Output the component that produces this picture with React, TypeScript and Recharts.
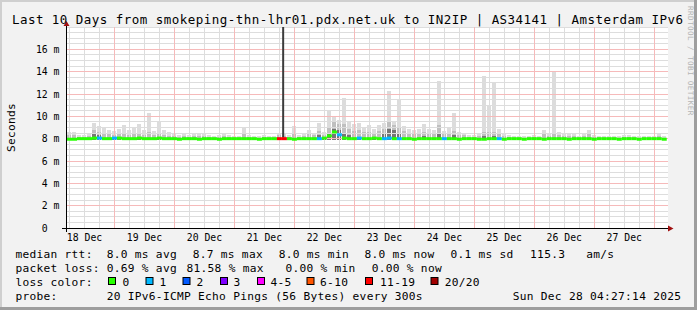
import React from 'react';
import { ComposedChart, Bar, Scatter, XAxis, YAxis, CartesianGrid, ReferenceLine } from 'recharts';

// ---------- data ----------
const firstBinHour = 6; // hours since 18 Dec 00:00 (bin centres, 2 h bins)
const binHours = 2;
const smokeBase = 7.9;

const smokeMax = [
  8.6, 8.6, 8.3, 8.3, 8.5, 9.4, 9.1, 9.0, 8.8, 8.7,
  8.9, 9.2, 8.8, 9.0, 9.3, 8.8, 10.3, 8.7, 9.5, 8.8,
  8.6, 8.4, 8.3, 8.4, 8.3, 8.4, 8.5, 8.4, 8.3, 8.2,
  8.3, 8.5, 8.3, 8.2, 8.2, 9.0, 8.3, 8.2, 8.2, 8.3,
  8.2, 8.2, 8.5, 8.4, 8.3, 9.1, 8.3, 8.4, 8.8, 8.5,
  9.4, 8.6, 10.5, 10.0, 9.7, 11.6, 9.5, 9.3, 9.4, 9.0,
  9.2, 8.9, 9.2, 9.4, 12.3, 9.6, 11.5, 9.1, 8.9, 8.8,
  8.9, 9.3, 8.9, 8.8, 13.2, 8.7, 9.0, 10.3, 8.6, 8.5,
  8.3, 8.3, 8.4, 13.6, 11.0, 13.1, 8.9, 8.4, 8.3, 8.2,
  8.2, 8.2, 8.2, 8.3, 8.2, 8.8, 8.4, 14.0, 8.6, 8.5,
  8.5, 8.4, 8.2, 8.5, 8.8, 8.3, 8.2, 8.2, 8.2, 8.2,
  8.2, 8.3, 8.3, 8.2, 8.2, 8.2, 8.2, 8.2, 8.4, 8.2,
];

const smokeMid = [
  8.3, 8.3, 8.15, 8.15, 8.25, 8.8, 8.6, 8.5, 8.4, 8.35,
  8.4, 8.5, 8.35, 8.4, 8.5, 8.35, 8.6, 8.3, 8.5, 8.35,
  8.25, 8.2, 8.15, 8.2, 8.15, 8.2, 8.2, 8.2, 8.15, 8.1,
  8.15, 8.2, 8.15, 8.1, 8.1, 8.4, 8.15, 8.1, 8.1, 8.15,
  8.1, 8.1, 8.3, 8.25, 8.15, 8.5, 8.15, 8.2, 8.4, 8.3,
  8.7, 8.35, 9.0, 9.6, 9.3, 9.3, 8.9, 8.7, 8.8, 8.6,
  8.6, 8.5, 8.7, 8.9, 9.5, 9.2, 9.0, 8.7, 8.5, 8.45,
  8.5, 8.6, 8.5, 8.45, 9.2, 8.4, 8.5, 8.7, 8.35, 8.3,
  8.15, 8.15, 8.2, 8.6, 8.6, 8.6, 8.45, 8.2, 8.15, 8.1,
  8.1, 8.1, 8.1, 8.15, 8.1, 8.4, 8.2, 8.5, 8.3, 8.25,
  8.25, 8.2, 8.1, 8.25, 8.4, 8.15, 8.1, 8.1, 8.1, 8.1,
  8.1, 8.15, 8.15, 8.1, 8.1, 8.1, 8.1, 8.1, 8.2, 8.1,
];

const smokeDark = [
  8.0, 8.0, 8.0, 8.0, 8.0, 8.4, 8.3, 8.0, 8.0, 8.0,
  8.0, 8.0, 8.0, 8.0, 8.0, 8.0, 8.0, 8.0, 8.0, 8.0,
  8.0, 8.0, 8.0, 8.0, 8.0, 8.0, 8.0, 8.0, 8.0, 8.0,
  8.0, 8.0, 8.0, 8.0, 8.0, 8.0, 8.0, 8.0, 8.0, 8.0,
  8.0, 8.0, 8.0, 8.0, 8.0, 8.0, 8.0, 8.0, 8.0, 8.0,
  8.3, 8.0, 8.5, 8.9, 8.8, 8.5, 8.3, 8.0, 8.0, 8.0,
  8.0, 8.0, 8.0, 8.4, 8.9, 8.8, 8.5, 8.0, 8.0, 8.0,
  8.0, 8.2, 8.0, 8.0, 8.5, 8.0, 8.0, 8.3, 8.0, 8.0,
  8.0, 8.0, 8.0, 8.2, 8.0, 8.2, 8.0, 8.0, 8.0, 8.0,
  8.0, 8.0, 8.0, 8.0, 8.0, 8.0, 8.0, 8.0, 8.0, 8.0,
  8.0, 8.0, 8.0, 8.0, 8.0, 8.0, 8.0, 8.0, 8.0, 8.0,
  8.0, 8.0, 8.0, 8.0, 8.0, 8.0, 8.0, 8.0, 8.0, 8.0,
];

const median = [
  7.95, 7.95, 8.0, 8.0, 8.0, 8.05, 8.05, 8.0, 8.0, 8.05,
  8.05, 8.0, 8.0, 8.0, 8.05, 8.0, 8.0, 8.0, 8.05, 8.0,
  8.0, 8.0, 7.95, 8.0, 8.0, 8.0, 7.95, 8.0, 8.0, 8.0,
  7.95, 8.0, 8.0, 8.0, 8.0, 8.0, 8.0, 8.0, 7.95, 8.0,
  8.0, 8.0, 8.0, 8.0, 8.0, 7.95, 8.0, 8.0, 8.0, 8.0,
  8.0, 8.05, 8.25, 8.6, 8.35, 8.05, 8.0, 8.0, 8.05, 8.0,
  8.0, 8.05, 8.0, 8.0, 8.05, 8.0, 8.0, 8.0, 8.0, 7.95,
  8.0, 8.0, 8.0, 8.0, 8.0, 8.0, 8.0, 8.0, 7.95, 8.0,
  8.0, 8.0, 7.95, 7.95, 8.0, 8.0, 8.0, 7.95, 8.0, 8.0,
  8.0, 7.95, 8.0, 8.0, 8.0, 7.95, 8.0, 8.0, 8.0, 8.0,
  7.95, 8.0, 8.0, 8.0, 8.0, 7.95, 8.0, 8.0, 8.0, 8.0,
  7.95, 8.0, 8.0, 8.0, 7.95, 8.0, 8.0, 8.0, 8.0, 7.95,
];

const loss = [
  0, 0, 0, 0, 0, 0, 1, 0, 0, 1,
  0, 0, 0, 0, 0, 0, 0, 0, 0, 0,
  0, 0, 0, 0, 0, 0, 0, 0, 0, 0,
  0, 0, 0, 0, 0, 0, 0, 0, 0, 0,
  0, 0, 16, 16, 0, 0, 0, 0, 0, 0,
  1, 0, 0, 0, 1, 0, 0, 0, 1, 0,
  0, 0, 0, 1, 1, 0, 1, 0, 0, 0,
  0, 0, 0, 0, 0, 1, 0, 0, 0, 0,
  0, 0, 0, 0, 0, 0, 1, 0, 0, 0,
  0, 0, 0, 0, 0, 0, 0, 0, 0, 0,
  0, 0, 0, 0, 0, 0, 0, 0, 0, 0,
  0, 0, 0, 0, 0, 0, 0, 0, 0, 0,
];

// single tall max-rtt spike (hours since 18 Dec 00:00)
const spikeHour = 91.5;
const spikeLow = 8.1;
const spikeHigh = 18;

const dayLabels = ['18 Dec', '19 Dec', '20 Dec', '21 Dec', '22 Dec', '23 Dec', '24 Dec', '25 Dec', '26 Dec', '27 Dec'];
const dayNoonHours = [12, 36, 60, 84, 108, 132, 156, 180, 204, 228];
const midnightHours = [24, 48, 72, 96, 120, 144, 168, 192, 216, 240];
const quarterDayHours = [6, 12, 18, 30, 36, 42, 54, 60, 66, 78, 84, 90, 102, 108, 114, 126, 132, 138, 150, 156, 162, 174, 180, 186, 198, 204, 210, 222, 228, 234];
const yTicks = [0, 2, 4, 6, 8, 10, 12, 14, 16];
const yMajorGrid = [2, 4, 6, 8, 10, 12, 14, 16];
const yMinorGrid = [0.5, 1, 1.5, 2.5, 3, 3.5, 4.5, 5, 5.5, 6.5, 7, 7.5, 8.5, 9, 9.5, 10.5, 11, 11.5, 12.5, 13, 13.5, 14.5, 15, 15.5, 16.5, 17, 17.5, 18];

const titleText = 'Last 10 Days from smokeping-thn-lhr01.pdx.net.uk to IN2IP | AS34141 | Amsterdam IPv6';
const rttStats = ['8.0 ms avg', '8.7 ms max', '8.0 ms min', '8.0 ms now', '0.1 ms sd', '115.3   am/s'];
const lossStats = ['0.69 % avg', '81.58 % max', '0.00 % min', '0.00 % now'];
const lossLegendLabels = ['0', '1', '2', '3', '4-5', '6-10', '11-19', '20/20'];
const lossLegendColors = ['#26ff00', '#00b8ff', '#0059ff', '#7e00ff', '#ff00ff', '#ff5500', '#ff0000', '#a10000'];
const probeText = '20 IPv6-ICMP Echo Pings (56 Bytes) every 300s';
const dateText = 'Sun Dec 28 04:27:14 2025';

// ---------- layout ----------
const W = 697;
const H = 310;
const FONT = "'DejaVu Sans Mono', monospace";
const rttX = [106.7, 192.7, 278.7, 364.4, 450.4, 530.1];
const lossX = [106.7, 186.5, 285.4, 371.7];
const legendSqX = [108, 145.5, 182.5, 220, 257, 306.5, 365, 430.5];
const legendLblX = [122.4, 159.4, 196.4, 233.4, 270.4, 320.1, 380.1, 444.7];

function lossColor(n: number): string {
  if (n <= 0) return lossLegendColors[0];
  if (n === 1) return lossLegendColors[1];
  if (n === 2) return lossLegendColors[2];
  if (n === 3) return lossLegendColors[3];
  if (n <= 5) return lossLegendColors[4];
  if (n <= 10) return lossLegendColors[5];
  if (n <= 19) return lossLegendColors[6];
  return lossLegendColors[7];
}

const table = smokeMax.map((mx, i) => ({
  t: firstBinHour + binHours * i,
  base: smokeBase,
  dark: Math.max(0, smokeDark[i] - smokeBase),
  mid: Math.max(0, smokeMid[i] - smokeDark[i]),
  light: Math.max(0, mx - smokeMid[i]),
  median: median[i],
  loss: loss[i],
}));

const MINOR = '#dddddd';
const MAJOR = '#f6baba';

const snap = (v: number) => Math.round(v - 0.5) + 0.5;

// grid lines use the library-computed coordinates, snapped to pixel centres
const makeGrid = (color: string) => (p: any) => {
  const { x1, y1, x2, y2 } = p;
  if (x1 == null || y1 == null) return <g />;
  if (Math.abs(y1 - y2) < 0.01) {
    const y = snap(y1);
    return <line x1={Math.round(Math.min(x1, x2))} y1={y} x2={Math.round(Math.max(x1, x2))} y2={y} stroke={color} strokeWidth={1} />;
  }
  const x = snap(x1);
  return <line x1={x} y1={Math.round(Math.min(y1, y2))} x2={x} y2={Math.round(Math.max(y1, y2))} stroke={color} strokeWidth={1} />;
};
const MinorLine = makeGrid(MINOR);
const MajorLine = makeGrid(MAJOR);

const XTick = (props: any) => {
  const { x, payload } = props;
  const idx = dayNoonHours.indexOf(payload.value);
  return (
    <text x={x} y={240.9} textAnchor="middle" fontSize={9.8} fontFamily={FONT} fill="#000">
      {idx >= 0 ? dayLabels[idx] : ''}
    </text>
  );
};

const YTick = (props: any) => {
  const { y, payload } = props;
  const v = payload.value;
  if (v === 0) {
    return (
      <text x={47.6} y={y + 3.5} textAnchor="end" fontSize={9.8} fontFamily={FONT} fill="#000">0</text>
    );
  }
  return (
    <text x={59.5} y={y + 3.5} textAnchor="end" fontSize={9.8} fontFamily={FONT} fill="#000" style={{ whiteSpace: 'pre' }}>
      {`${v} m`}
    </text>
  );
};

const MedianSeg = (props: any) => {
  const { cx, cy, payload } = props;
  if (cx == null || cy == null) return <g />;
  return <rect x={cx - 2.5} y={cy - 1.5} width={5} height={3} fill={lossColor(payload ? payload.loss : 0)} />;
};

const legendStyle: React.CSSProperties = { whiteSpace: 'pre', letterSpacing: '0.29px' };

export default function App() {
  return (
    <div style={{ position: 'fixed', left: 0, top: 0, width: W, height: H, background: '#f2f2f2', overflow: 'hidden' }}>
      <div style={{ position: 'absolute', left: 0, top: 0 }}>
        <ComposedChart width={W} height={H} data={table} margin={{ top: 27, right: 29, bottom: 52, left: 0 }}>
          <CartesianGrid horizontal={false} vertical={false} fill="#ffffff" fillOpacity={1} />
          <XAxis
            dataKey="t"
            type="number"
            domain={[5, 245.5]}
            ticks={dayNoonHours}
            interval={0}
            tick={<XTick />}
            axisLine={false}
            tickLine={false}
            height={30}
            allowDataOverflow
          />
          <YAxis
            type="number"
            domain={[0, 18]}
            ticks={yTicks}
            interval={0}
            tick={<YTick />}
            axisLine={false}
            tickLine={false}
            width={67}
            allowDataOverflow
          />
          {quarterDayHours.map((v) => (
            <ReferenceLine key={'qx' + v} x={v} stroke={MINOR} shape={MinorLine} />
          ))}
          {yMinorGrid.map((v) => (
            <ReferenceLine key={'my' + v} y={v} stroke={MINOR} shape={MinorLine} />
          ))}
          {midnightHours.map((v) => (
            <ReferenceLine key={'mx' + v} x={v} stroke={MAJOR} shape={MajorLine} />
          ))}
          {yMajorGrid.map((v) => (
            <ReferenceLine key={'jy' + v} y={v} stroke={MAJOR} shape={MajorLine} />
          ))}
          <Bar dataKey="base" stackId="smoke" fill="none" barSize={5} isAnimationActive={false} shapeRendering="crispEdges" />
          <Bar dataKey="dark" stackId="smoke" fill="#767676" barSize={5} isAnimationActive={false} shapeRendering="crispEdges" />
          <Bar dataKey="mid" stackId="smoke" fill="#bfbfbf" barSize={5} isAnimationActive={false} shapeRendering="crispEdges" />
          <Bar dataKey="light" stackId="smoke" fill="#dcdcdc" barSize={5} isAnimationActive={false} shapeRendering="crispEdges" />
          <ReferenceLine
            segment={[{ x: spikeHour, y: spikeLow }, { x: spikeHour, y: spikeHigh }]}
            stroke="#3c3c3c"
            strokeWidth={2}
          />
          <Scatter dataKey="median" shape={MedianSeg} isAnimationActive={false} />
        </ComposedChart>
      </div>
      <svg width={W} height={H} style={{ position: 'absolute', left: 0, top: 0, pointerEvents: 'none' }}>
        {/* frame */}
        <rect x={0} y={0} width={W} height={2} fill="#cfcfcf" />
        <rect x={0} y={0} width={2} height={H} fill="#cfcfcf" />
        <rect x={0} y={H - 3} width={W} height={3} fill="#9e9e9e" />
        <rect x={W - 3} y={0} width={3} height={H} fill="#9e9e9e" />
        {/* axes */}
        <line x1={62} y1={228.5} x2={669} y2={228.5} stroke="#000" strokeWidth={1} />
        <line x1={66.5} y1={232} x2={66.5} y2={25} stroke="#000" strokeWidth={1} />
        <polygon points="668,225.5 668,231.5 673.5,228.5" fill="#a01010" />
        <polygon points="63.5,26 69.5,26 66.5,21" fill="#a01010" />
        {/* title */}
        <text x={11.9} y={23.7} fontSize={12.5} fontFamily={FONT} fill="#000" style={{ whiteSpace: 'pre', letterSpacing: '0.47px' }}>
          {titleText}
        </text>
        {/* watermark */}
        <text
          x={688.3}
          y={6}
          transform="rotate(90 688.3 6)"
          fontSize={7.6}
          fontFamily={FONT}
          fill="#b4b4b4"
          style={{ whiteSpace: 'pre', letterSpacing: '0.42px' }}
        >
          RRDTOOL / TOBI OETIKER
        </text>
        {/* y axis title */}
        <text
          x={14.5}
          y={127.5}
          transform="rotate(-90 14.5 127.5)"
          textAnchor="middle"
          fontSize={11.2}
          fontFamily={FONT}
          fill="#000"
          style={legendStyle}
        >
          Seconds
        </text>
        {/* legend */}
        <g fontSize={11.2} fontFamily={FONT} fill="#000">
          <text x={15.4} y={258.3} style={legendStyle}>median rtt:</text>
          {rttStats.map((s, i) => (
            <text key={'r' + i} x={rttX[i]} y={258.3} style={legendStyle}>{s}</text>
          ))}
          <text x={15.4} y={272.3} style={legendStyle}>packet loss:</text>
          {lossStats.map((s, i) => (
            <text key={'l' + i} x={lossX[i]} y={272.3} style={legendStyle}>{s}</text>
          ))}
          <text x={15.4} y={286.3} style={legendStyle}>loss color:</text>
          {lossLegendLabels.map((s, i) => (
            <g key={'c' + i}>
              <rect x={legendSqX[i] + 0.5} y={277.5} width={7} height={7} fill={lossLegendColors[i]} stroke="#000" strokeWidth={1} />
              <text x={legendLblX[i]} y={286.3} style={legendStyle}>{s}</text>
            </g>
          ))}
          <text x={15.4} y={300.3} style={legendStyle}>probe:</text>
          <text x={106.7} y={300.3} style={legendStyle}>{probeText}</text>
          <text x={512.7} y={300.3} style={legendStyle}>{dateText}</text>
        </g>
      </svg>
    </div>
  );
}
